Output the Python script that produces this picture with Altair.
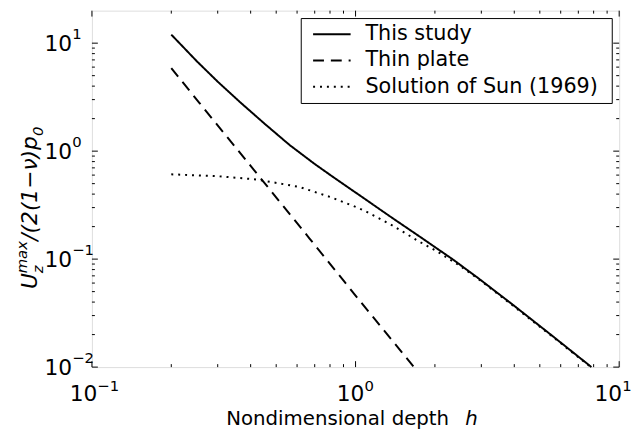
import altair as alt
import pandas as pd

# ---- data ----
SERIES = ["This study", "Thin plate", "Solution of Sun (1969)"]
DASHES = [[1, 0], [11, 7], [2, 5]]

H_STUDY = [0.2, 0.25, 0.3, 0.366, 0.45, 0.562, 0.7, 0.84, 1.0, 1.37, 1.73, 2.33, 2.9, 4.0, 5.5, 7.85]
U_STUDY = [12.0, 6.8, 4.4, 2.82, 1.81, 1.14, 0.76, 0.555, 0.414, 0.243, 0.165, 0.1, 0.0675, 0.0369, 0.020, 0.010]

H_PLATE = [0.2, 0.255, 0.4, 0.668, 1.0, 1.66]
U_PLATE = [5.87, 2.82, 0.73, 0.156, 0.046, 0.0101]

H_SUN = [0.2, 0.3, 0.42, 0.52, 0.614, 0.8, 1.0, 1.09, 1.37, 1.73, 2.05, 2.5, 3.0, 4.0, 5.5, 7.85]
U_SUN = [0.61, 0.586, 0.547, 0.50, 0.465, 0.377, 0.305, 0.278, 0.207, 0.147, 0.117, 0.086, 0.0625, 0.0363, 0.0197, 0.0099]

X_MAJOR = [0.1, 1, 10]
X_EXP = ["−1", "0", "1"]
X_MINOR = [0.2, 0.3, 0.4, 0.5, 0.6, 0.7, 0.8, 0.9, 2, 3, 4, 5, 6, 7, 8, 9]
Y_MAJOR = [0.01, 0.1, 1, 10]
Y_EXP = ["−2", "−1", "0", "1"]
Y_MINOR = [0.02, 0.03, 0.04, 0.05, 0.06, 0.07, 0.08, 0.09,
           0.2, 0.3, 0.4, 0.5, 0.6, 0.7, 0.8, 0.9,
           2, 3, 4, 5, 6, 7, 8, 9]

X_TITLE = "Nondimensional depth"
X_TITLE_VAR = "h"

FONT = "DejaVu Sans"
W, H = 534, 361

lines = pd.concat([
    pd.DataFrame({"series": SERIES[0], "h": H_STUDY, "u": U_STUDY}),
    pd.DataFrame({"series": SERIES[1], "h": H_PLATE, "u": U_PLATE}),
    pd.DataFrame({"series": SERIES[2], "h": H_SUN, "u": U_SUN}),
])

xs = alt.Scale(type="log", domain=[0.1, 10], nice=False)
ys = alt.Scale(type="log", domain=[0.01, 20], nice=False)

main = alt.Chart(lines).mark_line(strokeWidth=2, color="black").encode(
    x=alt.X("h:Q", scale=xs, axis=None),
    y=alt.Y("u:Q", scale=ys, axis=None),
    strokeDash=alt.StrokeDash(
        "series:N", scale=alt.Scale(domain=SERIES, range=DASHES), legend=None),
)

xmaj = pd.DataFrame({"v": X_MAJOR, "e": X_EXP})
xmin = pd.DataFrame({"v": X_MINOR})
ymaj = pd.DataFrame({"v": Y_MAJOR, "e": Y_EXP})
ymin = pd.DataFrame({"v": Y_MINOR})


def xtick(df, y0, y1):
    return alt.Chart(df).mark_rule(color="black", strokeWidth=1).encode(
        x=alt.X("v:Q", scale=xs, axis=None), y=alt.value(y0), y2=alt.value(y1))


def ytick(df, x0, x1):
    return alt.Chart(df).mark_rule(color="black", strokeWidth=1).encode(
        y=alt.Y("v:Q", scale=ys, axis=None), x=alt.value(x0), x2=alt.value(x1))


ticks = [
    xtick(xmaj, H, H - 6), xtick(xmaj, 0, 6),
    xtick(xmin, H, H - 3), xtick(xmin, 0, 3),
    ytick(ymaj, 0, 6), ytick(ymaj, W, W - 6),
    ytick(ymin, 0, 3), ytick(ymin, W, W - 3),
]


def xlabels(filt, dx):
    base = alt.Chart(xmaj).transform_filter(filt)
    b = base.mark_text(font=FONT, fontSize=22, align="right", baseline="alphabetic",
                       dx=dx, color="black").encode(
        x=alt.X("v:Q", scale=xs, axis=None), y=alt.value(395), text=alt.value("10"))
    e = base.mark_text(font=FONT, fontSize=15, align="left", baseline="alphabetic",
                       dx=dx, color="black").encode(
        x=alt.X("v:Q", scale=xs, axis=None), y=alt.value(385), text="e:N")
    return [b, e]


xlab = (xlabels("indexof(datum.e, '−') == 0", 5.5)
        + xlabels("indexof(datum.e, '−') != 0 && datum.v < 5", 9)
        + xlabels("datum.v >= 5", 3))

ylab_b = alt.Chart(ymaj).mark_text(font=FONT, fontSize=22, align="right",
                                   baseline="alphabetic", dy=8, color="black").encode(
    y=alt.Y("v:Q", scale=ys, axis=None), x=alt.value(-20), text=alt.value("10"))
ylab_e = alt.Chart(ymaj).mark_text(font=FONT, fontSize=15, align="left",
                                   baseline="alphabetic", dy=-4, color="black").encode(
    y=alt.Y("v:Q", scale=ys, axis=None), x=alt.value(-20), text="e:N")


def txt(s, x, y, size, italic=False, angle=0, baseline="alphabetic"):
    kw = dict(font=FONT, fontSize=size, align="left", baseline=baseline,
              color="black", angle=angle)
    if italic:
        kw["fontStyle"] = "italic"
    return alt.Chart(pd.DataFrame({"t": [s]})).mark_text(**kw).encode(
        x=alt.value(x), y=alt.value(y), text="t:N")


titles = [
    txt(X_TITLE, 136, 420, 20),
    txt(X_TITLE_VAR, 378, 420, 20, italic=True),
    # y title: U_z^max /(2(1-nu)p_0), rotated
    txt("U", -56, 282, 22, italic=True, angle=270),
    txt("z", -50, 266, 15, italic=True, angle=270),
    txt("max", -66, 266, 15, italic=True, angle=270),
    txt("/(2(1−ν)p", -56, 233, 22, italic=True, angle=270),
    txt("0", -50, 127, 15, italic=True, angle=270),
]

# ---- legend box (drawn as marks) ----
one = pd.DataFrame({"k": [0]})
legend = [
    alt.Chart(one).mark_rect(fill="white", stroke="black", strokeWidth=1).encode(
        x=alt.value(212), x2=alt.value(527), y=alt.value(8), y2=alt.value(94))
]
for i, (name, dash) in enumerate(zip(SERIES, DASHES)):
    yrow = 24 + i * 26.5
    legend.append(
        alt.Chart(one).mark_rule(color="black", strokeWidth=2, strokeDash=dash).encode(
            x=alt.value(224), x2=alt.value(262), y=alt.value(yrow)))
    legend.append(txt(name, 277, yrow, 21, baseline="middle"))

chart = alt.layer(
    main, *ticks, *xlab, ylab_b, ylab_e, *titles, *legend
).properties(
    width=W, height=H,
    autosize=alt.AutoSizeParams(type="none"),
    padding={"left": 85, "top": 0, "right": 14, "bottom": 60},
).configure_view(stroke="black", strokeWidth=1).configure(background="white")

chart.save("out.html", embed_options={"renderer": "svg", "actions": False})
